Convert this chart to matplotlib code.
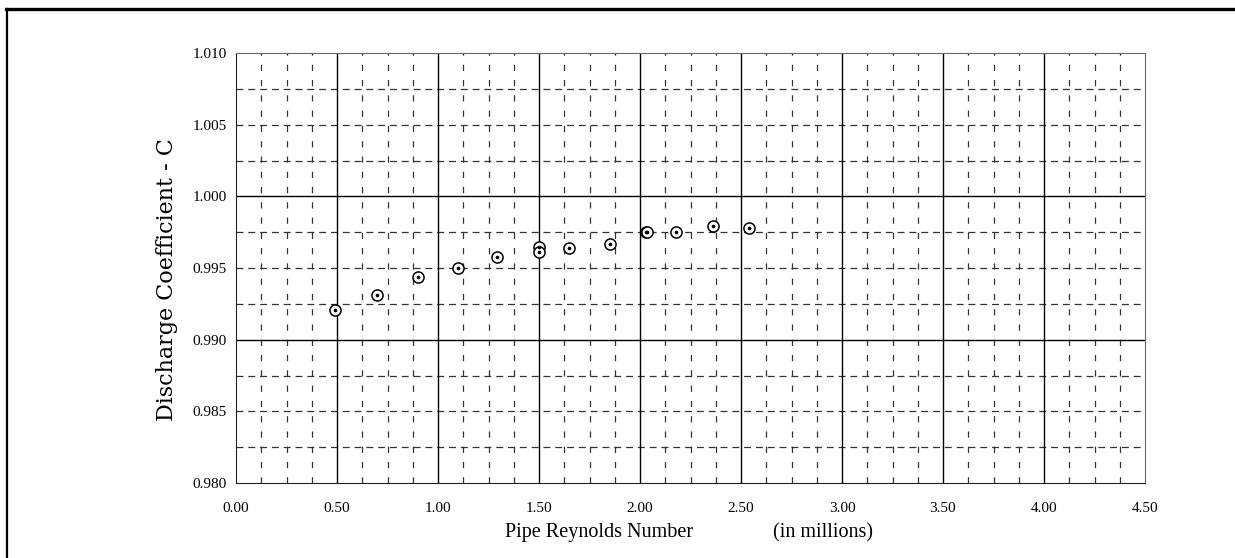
import numpy as np
import matplotlib
matplotlib.use("Agg")
import matplotlib.pyplot as plt
from matplotlib.lines import Line2D

# Reynolds number (millions) and discharge coefficient
reynolds = [0.49, 0.70, 0.90, 1.10, 1.29, 1.50, 1.50, 1.65, 1.85, 2.028, 2.036, 2.18, 2.36, 2.54]
coeff = [0.9921, 0.9931, 0.9944, 0.9950, 0.9958, 0.9965, 0.9961, 0.9964, 0.9967,
         0.9975, 0.9975, 0.9975, 0.9979, 0.9978]

x_ticks = [0.0, 0.5, 1.0, 1.5, 2.0, 2.5, 3.0, 3.5, 4.0, 4.5]
y_ticks = [0.980, 0.985, 0.990, 0.995, 1.000, 1.005, 1.010]

plt.rcParams['lines.scale_dashes'] = False

fig = plt.figure(figsize=(12.35, 5.58), dpi=100)
ax = fig.add_axes([236 / 1235, 1 - 483 / 558, 909 / 1235, 430 / 558])
ax.set_xlim(0, 4.5)
ax.set_ylim(0.980, 1.010)

# fine dashed grid
for xv in np.arange(0.125, 4.5, 0.125):
    if abs(xv / 0.5 - round(xv / 0.5)) > 1e-6:
        ax.axvline(xv, color='#333333', lw=0.9, dashes=(4.5, 6.5), zorder=1)
for yv in np.arange(0.9825, 1.010, 0.0025):
    if abs(yv / 0.01 - round(yv / 0.01)) > 1e-6:
        ax.axhline(yv, color='#333333', lw=0.9, dashes=(5, 3.5), zorder=1)
# solid major lines
for xv in x_ticks[1:-1]:
    ax.axvline(xv, color='black', lw=1.0, zorder=2)
for yv in [0.990, 1.000]:
    ax.axhline(yv, color='black', lw=1.0, zorder=2)

ax.plot(reynolds, coeff, 'o', ms=8, mfc='white', mec='black', mew=1.1, zorder=3)
ax.plot(reynolds, coeff, '.', ms=3.2, color='black', zorder=4)

ax.set_xticks(x_ticks)
ax.set_xticklabels(["%.2f" % v for v in x_ticks])
ax.set_yticks(y_ticks)
ax.set_yticklabels(["%.3f" % v for v in y_ticks])
ax.tick_params(length=0)
ax.tick_params(axis='x', pad=14)
ax.tick_params(axis='y', pad=6.5)
for lab in ax.get_xticklabels() + ax.get_yticklabels():
    lab.set_fontfamily('Liberation Serif')
    lab.set_fontsize(11)
for side in ['left', 'bottom']:
    ax.spines[side].set_color('#222222')
for side in ['top', 'right']:
    ax.spines[side].set_color('#666666')

fig.text(599 / 1235, 1 - 533 / 558, "Pipe Reynolds Number", family='Liberation Serif',
         fontsize=14.5, ha='center', va='center')
fig.text(823 / 1235, 1 - 533 / 558, "(in millions)", family='Liberation Serif',
         fontsize=14.5, ha='center', va='center')
fig.text(167 / 1235, 1 - 280 / 558, "Discharge Coefficient - C", family='DejaVu Serif',
         fontsize=16, rotation=90, ha='center', va='center')

# page frame lines
fig.add_artist(Line2D([6 / 1235, 1], [1 - 9 / 558, 1 - 9 / 558], transform=fig.transFigure,
                      color='black', lw=2.4))
fig.add_artist(Line2D([7 / 1235, 7 / 1235], [0, 1 - 9 / 558], transform=fig.transFigure,
                      color='black', lw=1.6))

fig.savefig("out.png", dpi=100)
